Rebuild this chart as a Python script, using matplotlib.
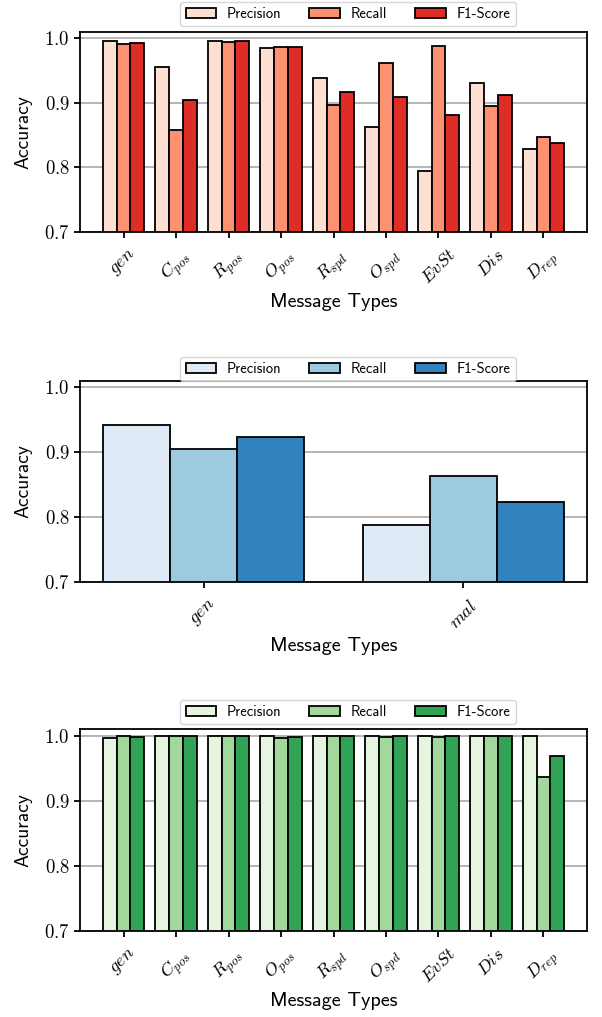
import numpy as np
import matplotlib
matplotlib.use("Agg")
import matplotlib.pyplot as plt
from matplotlib.ticker import FormatStrFormatter, FixedLocator

plt.rcParams['mathtext.fontset'] = 'cm'
plt.rcParams['font.family'] = ['cmss10', 'DejaVu Sans']
plt.rcParams['axes.unicode_minus'] = False

metrics = ["Precision", "Recall", "F1-Score"]

cats_a = [r"$gen$", r"$C_{pos}$", r"$R_{pos}$", r"$O_{pos}$", r"$R_{spd}$",
          r"$O_{spd}$", r"$EvSt$", r"$Dis$", r"$D_{rep}$"]
prec_a = [0.996, 0.956, 0.996, 0.985, 0.938, 0.863, 0.795, 0.931, 0.829]
rec_a = [0.991, 0.858, 0.995, 0.986, 0.897, 0.962, 0.988, 0.895, 0.847]
f1_a = [0.993, 0.904, 0.996, 0.986, 0.917, 0.910, 0.881, 0.913, 0.838]

cats_b = [r"$gen$", r"$mal$"]
prec_b = [0.942, 0.788]
rec_b = [0.905, 0.864]
f1_b = [0.923, 0.824]

cats_c = cats_a
prec_c = [0.996, 1.000, 1.000, 1.000, 1.000, 1.000, 1.000, 1.000, 1.000]
rec_c = [1.000, 1.000, 1.000, 0.996, 0.9995, 0.997, 0.997, 1.000, 0.937]
f1_c = [0.998, 1.000, 1.000, 0.998, 1.000, 0.9985, 0.9985, 1.000, 0.968]

reds = ["#fee0d2", "#fc9272", "#de2d26"]
blues = ["#deebf7", "#9ecae1", "#3182bd"]
greens = ["#e5f5e0", "#a1d99b", "#31a354"]

W, H = 602, 1017
fig = plt.figure(figsize=(W / 100, H / 100), dpi=100)


def px_axes(left, top, right, bottom):
    return fig.add_axes([left / W, 1 - bottom / H, (right - left) / W, (bottom - top) / H])


def draw(ax, cats, series, colors, bw, xlim, legend_top):
    x = np.arange(len(cats))
    handles = []
    for i, (vals, col) in enumerate(zip(series, colors)):
        h = ax.bar(x + (i - 1) * bw, np.array(vals) - 0.7, bw, bottom=0.7,
                   color=col, edgecolor="black", linewidth=1.3, label=metrics[i], zorder=3)
        handles.append(h)
    ax.set_ylim(0.7, 1.01)
    ax.set_xlim(*xlim)
    ax.yaxis.set_major_locator(FixedLocator([0.7, 0.8, 0.9, 1.0]))
    ax.yaxis.set_major_formatter(FormatStrFormatter(r"$%.1f$"))
    ax.set_xticks(x)
    ax.set_xticklabels(cats, rotation=45, fontsize=13)
    ax.tick_params(axis="y", labelsize=13.5, length=4.5, width=1.3, pad=3)
    ax.tick_params(axis="x", length=4.5, width=1.3, pad=6)
    ax.grid(axis="y", color="#b0b0b0", linewidth=1.3, zorder=0)
    ax.set_axisbelow(True)
    for s in ax.spines.values():
        s.set_linewidth(1.3)
    ax.set_ylabel("Accuracy", fontsize=14, labelpad=8)
    ax.set_xlabel("Message Types", fontsize=14.5, labelpad=4)
    leg = fig.legend(handles=handles, loc="upper center",
                     bbox_to_anchor=(348 / W, 1 - legend_top / H), ncol=3, fontsize=10.5,
                     frameon=True, fancybox=True, edgecolor="#cccccc",
                     columnspacing=1.9, handlelength=2.1, handleheight=0.6,
                     handletextpad=0.75, borderpad=0.35, borderaxespad=0.0)
    leg.get_frame().set_linewidth(1.0)


ax1 = px_axes(80, 32, 587, 232)
draw(ax1, cats_a, [prec_a, rec_a, f1_a], reds, 0.264, (-0.83, 8.83), 2)

ax2 = px_axes(80, 381, 587, 582)
draw(ax2, cats_b, [prec_b, rec_b, f1_b], blues, 0.258, (-0.477, 1.477), 357)

ax3 = px_axes(80, 729, 587, 931)
draw(ax3, cats_c, [prec_c, rec_c, f1_c], greens, 0.264, (-0.83, 8.83), 700)

fig.savefig("out.png", dpi=100)
